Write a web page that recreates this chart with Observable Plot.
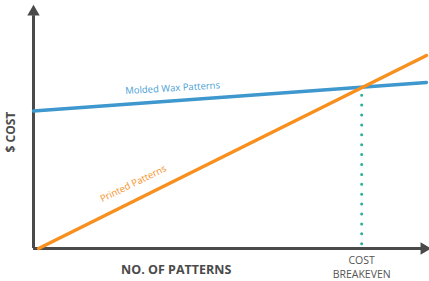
<!DOCTYPE html>
<html><head><meta charset="utf-8">
<script src="https://cdn.jsdelivr.net/npm/d3@7"></script>
<script src="https://cdn.jsdelivr.net/npm/@observablehq/plot@0.6"></script>
<style>body{margin:0;background:#fff;font-family:"Open Sans",sans-serif}</style>
</head><body><div id="chart"></div>
<script>
// Series: cost vs number of patterns (arbitrary units)
const waxX = [0, 100];
const waxY = [57.3, 69.2];
const printX = [1.3, 100];
const printY = [0, 80.4];
const breakevenX = 83.5;
const breakevenY = [2, 66.5];
const seriesNames = ["Molded Wax Patterns", "Printed Patterns"];
const labelX = [35.4, 25.4];
const labelY = [66.8, 27.0];
const xTitle = "NO. OF PATTERNS";
const yTitle = "$ COST";
const breakevenLabel = ["COST", "BREAKEVEN"];

const wax = waxX.map((x, i) => ({x, y: waxY[i]}));
const printed = printX.map((x, i) => ({x, y: printY[i]}));
const be = breakevenY.map(y => ({x: breakevenX, y}));

const axisColor = "#4a4a4a";
const chart = Plot.plot({
  width: 429, height: 281,
  marginLeft: 33, marginRight: 3, marginTop: 8, marginBottom: 33,
  x: {domain: [0, 100], axis: null},
  y: {domain: [0, 100], axis: null},
  style: {fontFamily: "Open Sans", background: "#fff"},
  marks: [
    Plot.ruleX([0], {y1: 0, y2: 97, stroke: axisColor, strokeWidth: 3}),
    Plot.ruleY([0], {x1: 0, x2: 99, stroke: axisColor, strokeWidth: 3}),
    Plot.dot([{x: 0, y: 98.6}], {x: "x", y: "y", symbol: "triangle", r: 4.6, fill: axisColor, stroke: "none"}),
    Plot.dot([{x: 99.4, y: 0}], {x: "x", y: "y", symbol: "triangle", r: 4.6, fill: axisColor, stroke: "none", rotate: 90}),
    Plot.line(be, {x: "x", y: "y", stroke: "#2bb09b", strokeWidth: 3, strokeDasharray: "0,9.9", strokeLinecap: "round"}),
    Plot.line(wax, {x: "x", y: "y", stroke: "#3e97cd", strokeWidth: 3.5}),
    Plot.line(printed, {x: "x", y: "y", stroke: "#f7901e", strokeWidth: 3.5}),
    Plot.text([0], {x: labelX[0], y: labelY[0], text: [seriesNames[0]], fill: "#4a9fd6", fontSize: 9.5, rotate: -3.5}),
    Plot.text([0], {x: labelX[1], y: labelY[1], text: [seriesNames[1]], fill: "#f7901e", fontSize: 9.5, rotate: -26}),
    Plot.text([0], {x: 36.3, y: -8.8, text: [xTitle], fill: "#4a4a4a", fontSize: 12.5, fontWeight: "bold"}),
    Plot.text([0], {x: -5.6, y: 48.5, text: [yTitle], fill: "#4a4a4a", fontSize: 12, fontWeight: "bold", rotate: -90}),
    Plot.text([0], {x: breakevenX, y: -5.2, text: [breakevenLabel[0]], fill: "#555", fontSize: 10.5}),
    Plot.text([0], {x: breakevenX, y: -10.9, text: [breakevenLabel[1]], fill: "#555", fontSize: 10.5})
  ]
});
document.getElementById("chart").appendChild(chart);
</script></body></html>
